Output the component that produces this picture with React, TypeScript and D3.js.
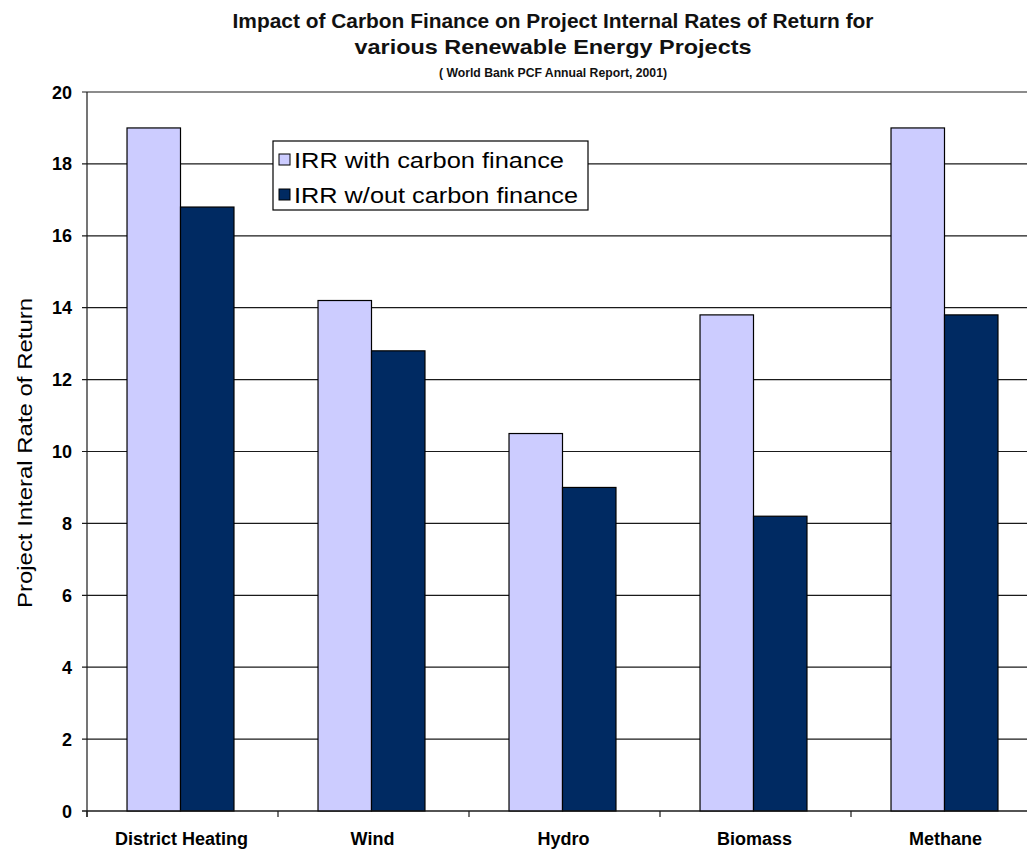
import React from "react";
import * as d3 from "d3";

const categories = ["District Heating", "Wind", "Hydro", "Biomass", "Methane"];
const withCarbon = [19, 14.2, 10.5, 13.8, 19];
const withoutCarbon = [16.8, 12.8, 9.0, 8.2, 13.8];
const seriesNames = ["IRR with carbon finance", "IRR w/out carbon finance"];
const yTicks = [0, 2, 4, 6, 8, 10, 12, 14, 16, 18, 20];

const W = 1027;
const H = 850;
const colors = ["#CCCCFF", "#002A62"];
const font = "Arial, 'Liberation Sans', sans-serif";

export default function App() {
  const y = d3.scaleLinear().domain([0, 20]).range([811, 92]);
  const x = d3.scaleBand().domain(categories).range([87, 87 + 191 * 5]).paddingInner(0).paddingOuter(0);
  const bw = x.bandwidth() * 0.28;
  const series = [withCarbon, withoutCarbon];
  const bounds = categories.map((c) => x(c) as number).concat([87 + 191 * 5]);

  return (
    <svg width={W} height={H} style={{ position: "absolute", left: 0, top: 0, background: "#fff" }} fontFamily={font}>
      <rect x={0} y={0} width={W} height={H} fill="#fff" />
      {/* titles */}
      <text x={553} y={28} textAnchor="middle" fontSize={21} fontWeight="bold" fill="#111" textLength={641} lengthAdjust="spacingAndGlyphs">
        Impact of Carbon Finance on Project Internal Rates of Return for
      </text>
      <text x={553} y={54} textAnchor="middle" fontSize={21} fontWeight="bold" fill="#111" textLength={397} lengthAdjust="spacingAndGlyphs">
        various Renewable Energy Projects
      </text>
      <text x={553} y={77} textAnchor="middle" fontSize={13} fontWeight="bold" fill="#111" textLength={228} lengthAdjust="spacingAndGlyphs">
        ( World Bank PCF Annual Report, 2001)
      </text>
      {/* gridlines */}
      {yTicks.map((t) => (
        <g key={t}>
          <line x1={82} x2={W} y1={y(t)} y2={y(t)} stroke="#1a1a1a" strokeWidth={1.2} />
          <text x={72} y={y(t) + 6.5} textAnchor="end" fontSize={18} fontWeight="bold" fill="#000">
            {t}
          </text>
        </g>
      ))}
      {/* bars */}
      {categories.map((c, i) => {
        const cx = (x(c) as number) + x.bandwidth() / 2 - 2;
        return (
          <g key={c}>
            {series.map((s, j) => (
              <rect
                key={j}
                x={cx - bw + j * bw}
                y={y(s[i])}
                width={bw}
                height={y(0) - y(s[i])}
                fill={colors[j]}
                stroke="#000"
                strokeWidth={1.2}
              />
            ))}
            <text x={cx + 1} y={845} textAnchor="middle" fontSize={18} fontWeight="bold" fill="#000">
              {c}
            </text>
          </g>
        );
      })}
      {/* axes */}
      <line x1={87} x2={87} y1={y(20)} y2={817} stroke="#1a1a1a" strokeWidth={1.2} />
      <line x1={82} x2={W} y1={y(0)} y2={y(0)} stroke="#1a1a1a" strokeWidth={1.2} />
      {bounds.map((b, i) => (
        <line key={i} x1={b} x2={b} y1={y(0)} y2={817} stroke="#1a1a1a" strokeWidth={1.2} />
      ))}
      {/* y label */}
      <text transform={`translate(32,453) rotate(-90)`} textAnchor="middle" fontSize={21} fill="#000" textLength={310} lengthAdjust="spacingAndGlyphs">
        Project Interal Rate of Return
      </text>
      {/* legend */}
      <rect x={273} y={141} width={315} height={69} fill="#fff" stroke="#000" strokeWidth={1.2} />
      {seriesNames.map((n, j) => (
        <g key={n}>
          <rect x={279} y={154 + j * 35} width={11} height={11} fill={colors[j]} stroke="#000" strokeWidth={1} />
          <text x={294} y={168 + j * 35} fontSize={22} fill="#000" textLength={j === 0 ? 270 : 284} lengthAdjust="spacingAndGlyphs">
            {n}
          </text>
        </g>
      ))}
    </svg>
  );
}
